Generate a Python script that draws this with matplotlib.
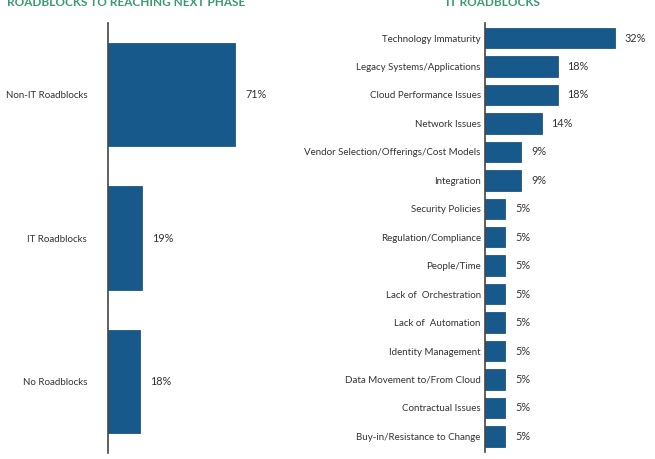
import matplotlib
matplotlib.use('Agg')
from matplotlib import pyplot as plt

# left chart: roadblocks to reaching next phase
phase_labels = ['Non-IT Roadblocks', 'IT Roadblocks', 'No Roadblocks']
phase_values = [71, 19, 18]

# right chart: IT roadblocks
it_labels = ['Technology Immaturity', 'Legacy Systems/Applications',
             'Cloud Performance Issues', 'Network Issues',
             'Vendor Selection/Offerings/Cost Models', 'Integration',
             'Security Policies', 'Regulation/Compliance', 'People/Time',
             'Lack of  Orchestration', 'Lack of  Automation',
             'Identity Management', 'Data Movement to/From Cloud',
             'Contractual Issues', 'Buy-in/Resistance to Change']
it_values = [32, 18, 18, 14, 9, 9, 5, 5, 5, 5, 5, 5, 5, 5, 5]

bar_color = '#17598a'
text_color = '#333333'
title_color = '#3a9a6e'
plt.rcParams['font.family'] = ['Lato', 'DejaVu Sans']

W, H = 655, 459
fig = plt.figure(figsize=(W / 100, H / 100), dpi=100)


def px_axes(left, top, right, bottom):
    return fig.add_axes([left / W, 1 - bottom / H, (right - left) / W, (bottom - top) / H])


def style(ax):
    for s in ['top', 'right', 'bottom']:
        ax.spines[s].set_visible(False)
    ax.spines['left'].set_color('#444444')
    ax.spines['left'].set_linewidth(1.2)
    ax.set_xticks([])
    ax.tick_params(axis='y', length=0, labelsize=7, labelcolor=text_color)


# left
ax1 = px_axes(108, 23, 108 + 179, 453)
ax1.barh(range(len(phase_values)), phase_values, height=0.72, color=bar_color,
         edgecolor='#0f4470', linewidth=0.5)
ax1.set_xlim(0, 100)
ax1.set_ylim(2.5, -0.5)
ax1.set_yticks(range(len(phase_labels)))
ax1.set_yticklabels(phase_labels)
style(ax1)
ax1.tick_params(axis='y', pad=15)
for i, v in enumerate(phase_values):
    ax1.annotate('{0}%'.format(v), (v, i), xytext=(7.5, 0), textcoords='offset points',
                 va='center', ha='left', fontsize=7.8, color=text_color)

# right
ax2 = px_axes(485, 23, 485 + 162, 452)
ax2.barh(range(len(it_values)), it_values, height=0.72, color=bar_color,
         edgecolor='#0f4470', linewidth=0.5)
ax2.set_xlim(0, 40)
ax2.set_ylim(14.55, -0.53)
ax2.set_yticks(range(len(it_labels)))
ax2.set_yticklabels(it_labels)
style(ax2)
ax2.tick_params(axis='y', pad=3)
for i, v in enumerate(it_values):
    ax2.annotate('{0}%'.format(v), (v, i), xytext=(7, 0), textcoords='offset points',
                 va='center', ha='left', fontsize=7.8, color=text_color)

fig.text(126 / W, 1 - 6 / H, 'ROADBLOCKS TO REACHING NEXT PHASE', ha='center',
         va='baseline', fontsize=8.5, fontweight='bold', color=title_color)
fig.text(493 / W, 1 - 6 / H, 'IT ROADBLOCKS', ha='center',
         va='baseline', fontsize=8.5, fontweight='bold', color=title_color)

fig.savefig('out.png', dpi=100)
